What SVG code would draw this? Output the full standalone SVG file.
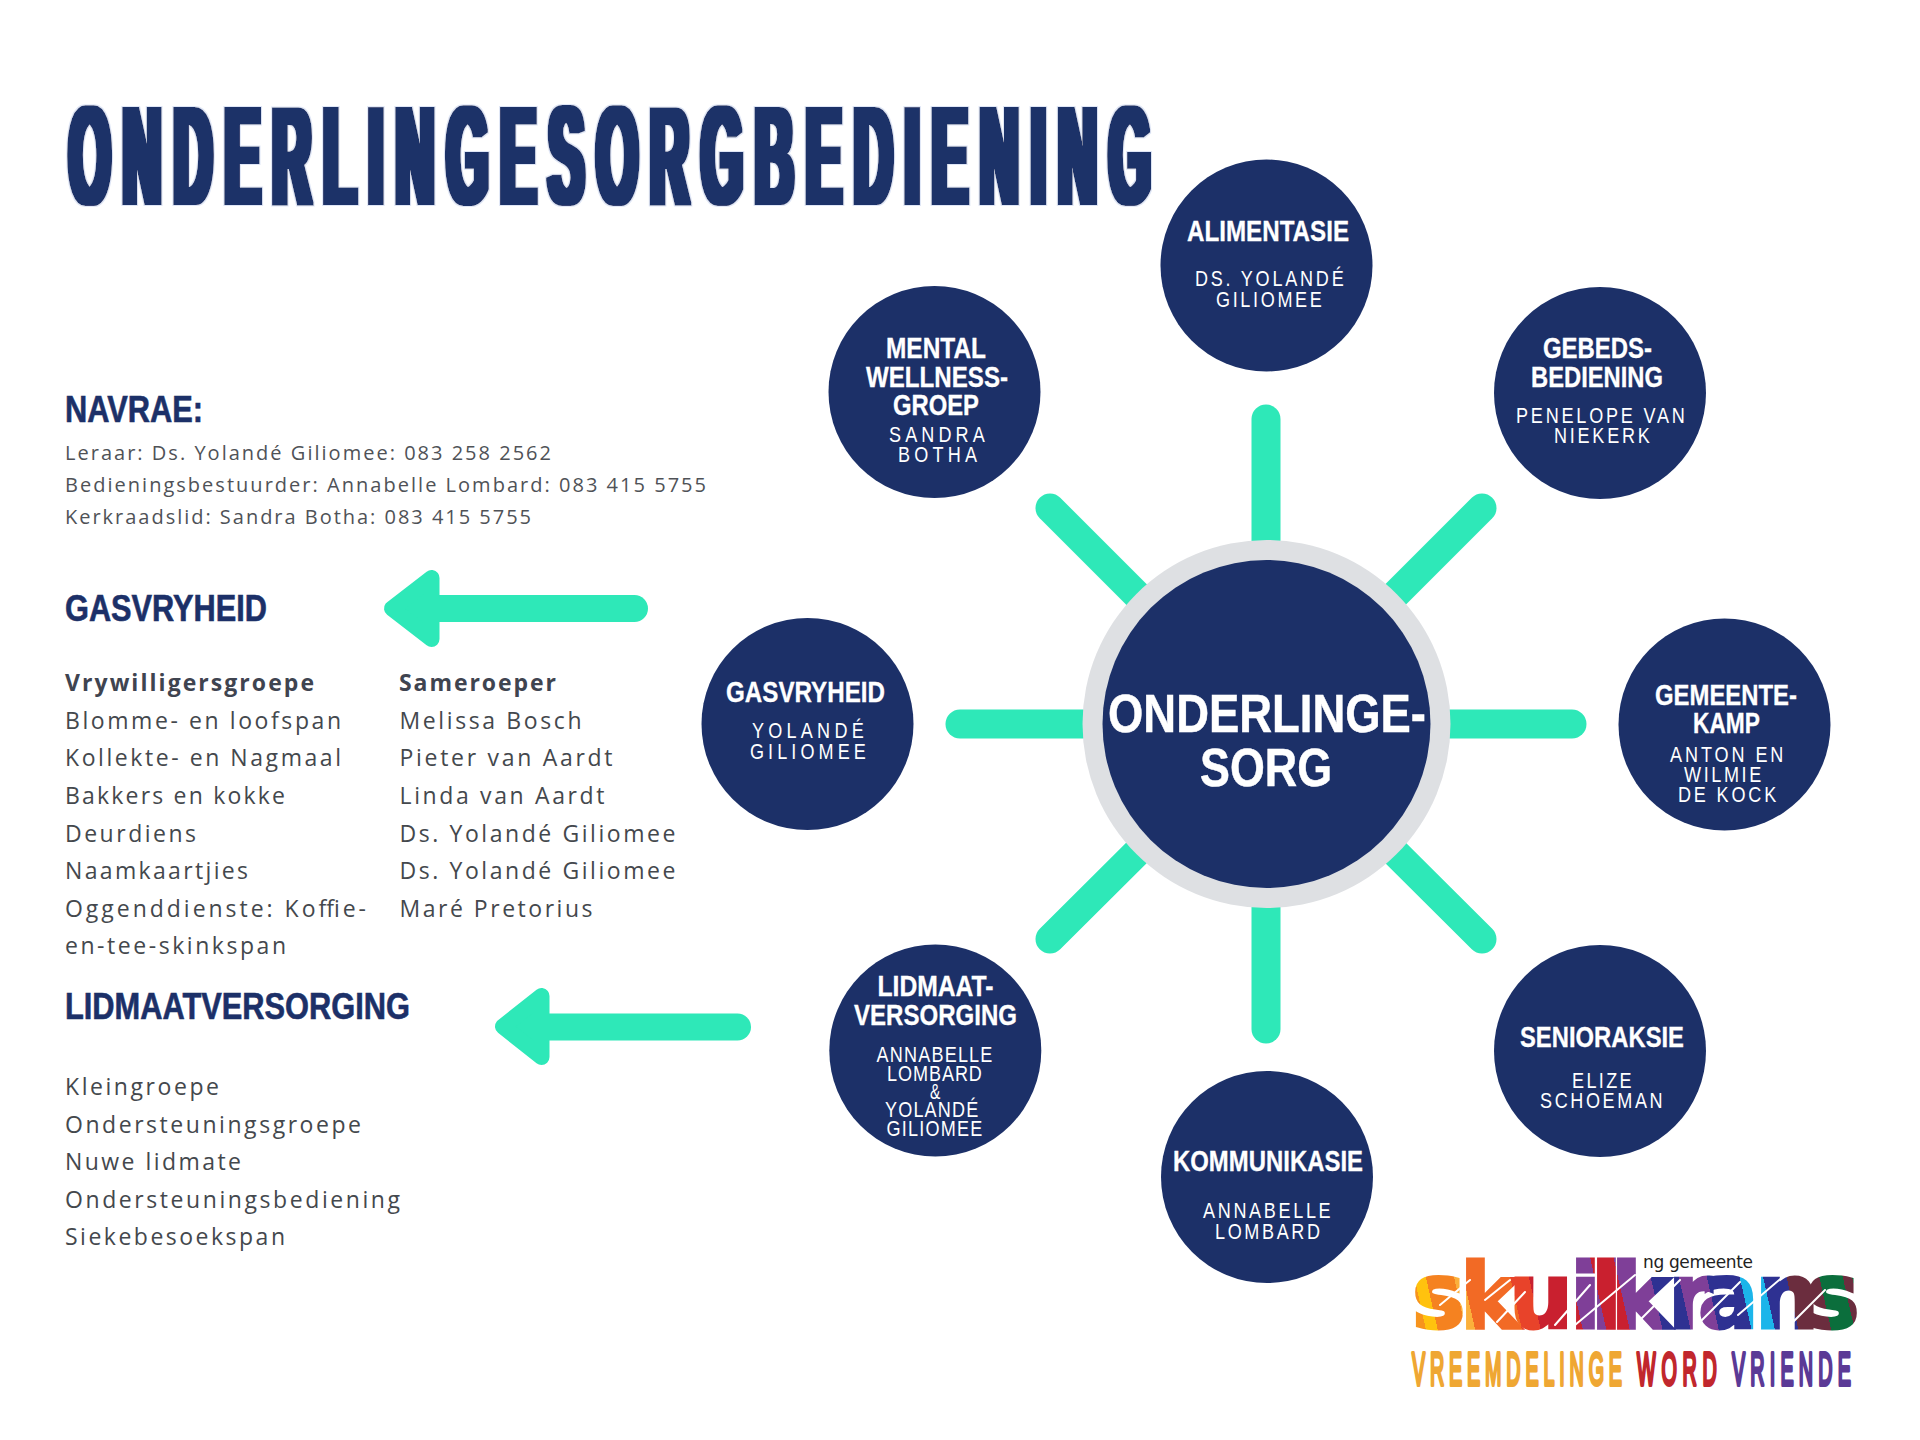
<svg xmlns="http://www.w3.org/2000/svg" width="1920" height="1440" viewBox="0 0 1920 1440">
<style>
text{font-family:"Liberation Sans",Arial,sans-serif}
.title{font-weight:700;font-size:140px;fill:#1c3068}
.h{font-weight:700;font-size:36px;fill:#1c3068;stroke:#1c3068;stroke-width:.6px}
.b{font-family:"Open Sans",sans-serif;font-size:23px;fill:#44484d}
.s{font-family:"Open Sans",sans-serif;font-size:20px;fill:#4f5257}
.bb{font-family:"Open Sans",sans-serif;font-size:23px;font-weight:700;fill:#3f4450}
.dot{fill:#1c3068}
.t{font-weight:700;font-size:29px;fill:#fff;stroke:#fff;stroke-width:.3px}
.n{font-size:21.5px;fill:#fff}
.c{font-weight:700;font-size:54px;fill:#fff;stroke:#fff;stroke-width:.5px}
.sp{stroke:#2ee8b8;stroke-width:29;stroke-linecap:round;fill:none}
.hd{fill:#2ee8b8;stroke:#2ee8b8;stroke-width:16;stroke-linejoin:round}
.shaft{stroke:#2ee8b8;stroke-width:27;stroke-linecap:round}
.tag{font-size:47px;stroke-width:4px;stroke-linejoin:round}
.cut{stroke:#fff;fill:none;stroke-linecap:round}
</style>
<defs>
<filter id="fat" filterUnits="userSpaceOnUse" x="0" y="60" width="1300" height="200">
<feMorphology in="SourceGraphic" operator="dilate" radius="3.8 0.6" result="d"/>
<feMorphology in="d" operator="dilate" radius="1 1" result="h"/>
<feFlood flood-color="#dfe6f6"/>
<feComposite in2="h" operator="in" result="halo"/>
<feMerge><feMergeNode in="halo"/><feMergeNode in="d"/></feMerge>
</filter>
<linearGradient id="streak" gradientUnits="userSpaceOnUse" x1="1413" y1="1345" x2="1859" y2="1245">
<stop offset="0" stop-color="#f7941d"/><stop offset=".035" stop-color="#f7941d"/><stop offset=".035" stop-color="#ffc20e"/><stop offset=".06" stop-color="#ffc20e"/><stop offset=".06" stop-color="#f58220"/><stop offset=".12" stop-color="#f58220"/><stop offset=".12" stop-color="#fbb03b"/><stop offset=".14" stop-color="#fbb03b"/><stop offset=".14" stop-color="#f26a25"/><stop offset=".24" stop-color="#f26a25"/><stop offset=".24" stop-color="#e8432a"/><stop offset=".28" stop-color="#e8432a"/><stop offset=".28" stop-color="#c9202f"/><stop offset=".37" stop-color="#c9202f"/><stop offset=".37" stop-color="#7f3f98"/><stop offset=".42" stop-color="#7f3f98"/><stop offset=".42" stop-color="#c9202f"/><stop offset=".47" stop-color="#c9202f"/><stop offset=".47" stop-color="#7f3f98"/><stop offset=".54" stop-color="#7f3f98"/><stop offset=".54" stop-color="#2e3192"/><stop offset=".6" stop-color="#2e3192"/><stop offset=".6" stop-color="#7f3f98"/><stop offset=".66" stop-color="#7f3f98"/><stop offset=".66" stop-color="#2e3192"/><stop offset=".73" stop-color="#2e3192"/><stop offset=".73" stop-color="#1cb5ea"/><stop offset=".78" stop-color="#1cb5ea"/><stop offset=".78" stop-color="#2e3192"/><stop offset=".83" stop-color="#2e3192"/><stop offset=".83" stop-color="#6b2d3e"/><stop offset=".9" stop-color="#6b2d3e"/><stop offset=".9" stop-color="#0b6e3c"/><stop offset=".95" stop-color="#0b6e3c"/><stop offset=".95" stop-color="#6b2d3e"/><stop offset=".97" stop-color="#6b2d3e"/><stop offset=".97" stop-color="#0b6e3c"/><stop offset="1" stop-color="#0b6e3c"/>
</linearGradient>
</defs>
<rect width="1920" height="1440" fill="#fff"/>

<g id="title" filter="url(#fat)">
<text class="title" transform="translate(69,204) scale(.38,1)" textLength="2846">ONDERLINGESORGBEDIENING</text>
</g>

<g id="navrae">
<text class="h" x="65" y="422" textLength="138" lengthAdjust="spacingAndGlyphs">NAVRAE:</text>
<text class="s" x="65" y="460" textLength="486">Leraar: Ds. Yolandé Giliomee: 083 258 2562</text>
<text class="s" x="65" y="492" textLength="641">Bedieningsbestuurder: Annabelle Lombard: 083 415 5755</text>
<text class="s" x="65" y="524" textLength="466">Kerkraadslid: Sandra Botha: 083 415 5755</text>
</g>

<g id="gasvryheid-list">
<text class="h" x="65" y="621" textLength="202" lengthAdjust="spacingAndGlyphs">GASVRYHEID</text>
<text class="bb" x="65" y="691" textLength="249">Vrywilligersgroepe</text>
<text class="b" x="65" y="729" textLength="276">Blomme- en loofspan</text>
<text class="b" x="65" y="766" textLength="276">Kollekte- en Nagmaal</text>
<text class="b" x="65" y="804" textLength="220">Bakkers en kokke</text>
<text class="b" x="65" y="841.5" textLength="131">Deurdiens</text>
<text class="b" x="65" y="879" textLength="183">Naamkaartjies</text>
<text class="b" x="65" y="916.5" textLength="301">Oggenddienste: Koffie-</text>
<text class="b" x="65" y="954" textLength="221">en-tee-skinkspan</text>
<text class="bb" x="399" y="691" textLength="157">Sameroeper</text>
<text class="b" x="399.5" y="729" textLength="182">Melissa Bosch</text>
<text class="b" x="399.5" y="766" textLength="213">Pieter van Aardt</text>
<text class="b" x="399.5" y="804" textLength="205">Linda van Aardt</text>
<text class="b" x="399.5" y="841.5" textLength="276">Ds. Yolandé Giliomee</text>
<text class="b" x="399.5" y="879" textLength="276">Ds. Yolandé Giliomee</text>
<text class="b" x="399.5" y="916.5" textLength="193">Maré Pretorius</text>
</g>

<g id="lidmaat-list">
<text class="h" x="65" y="1019" textLength="345" lengthAdjust="spacingAndGlyphs">LIDMAATVERSORGING</text>
<text class="b" x="65" y="1095" textLength="154">Kleingroepe</text>
<text class="b" x="65" y="1132.5" textLength="296">Ondersteuningsgroepe</text>
<text class="b" x="65" y="1170" textLength="176">Nuwe lidmate</text>
<text class="b" x="65" y="1207.5" textLength="335">Ondersteuningsbediening</text>
<text class="b" x="65" y="1245" textLength="220">Siekebesoekspan</text>
</g>

<g id="connectors">
<line class="sp" x1="1266" y1="419" x2="1266" y2="724"/>
<line class="sp" x1="1266" y1="1029" x2="1266" y2="724"/>
<line class="sp" x1="960" y1="724" x2="1266" y2="724"/>
<line class="sp" x1="1572" y1="724" x2="1266" y2="724"/>
<line class="sp" x1="1050" y1="508" x2="1266" y2="724"/>
<line class="sp" x1="1482" y1="508" x2="1266" y2="724"/>
<line class="sp" x1="1050" y1="939" x2="1266" y2="724"/>
<line class="sp" x1="1482" y1="939" x2="1266" y2="724"/>
<line class="shaft" x1="430" y1="608.5" x2="634.5" y2="608.5"/>
<polygon class="hd" points="392,608.5 431.5,578 431.5,639"/>
<line class="shaft" x1="540" y1="1027" x2="737.5" y2="1027"/>
<polygon class="hd" points="503,1026.5 541.5,996 541.5,1057"/>
</g>

<g id="node-center">
<circle cx="1266.5" cy="724" r="184" fill="#dee0e3"/>
<circle class="dot" cx="1266.5" cy="724" r="164"/>
<text class="c" x="1108" y="732" textLength="318" lengthAdjust="spacingAndGlyphs">ONDERLINGE-</text>
<text class="c" x="1200" y="786" textLength="132" lengthAdjust="spacingAndGlyphs">SORG</text>
</g>

<g id="node-alimentasie">
<circle class="dot" cx="1266.5" cy="265.5" r="106"/>
<text class="t" x="1187" y="241" textLength="162" lengthAdjust="spacingAndGlyphs">ALIMENTASIE</text>
<text class="n" transform="translate(1195,286) scale(.84,1)" textLength="177">DS. YOLANDÉ</text>
<text class="n" transform="translate(1216,307) scale(.84,1)" textLength="126">GILIOMEE</text>
</g>
<g id="node-gebeds">
<circle class="dot" cx="1600" cy="393" r="106"/>
<text class="t" x="1543" y="358" textLength="109" lengthAdjust="spacingAndGlyphs">GEBEDS-</text>
<text class="t" x="1531" y="387" textLength="132" lengthAdjust="spacingAndGlyphs">BEDIENING</text>
<text class="n" transform="translate(1516,423) scale(.84,1)" textLength="201">PENELOPE VAN</text>
<text class="n" transform="translate(1554,443) scale(.84,1)" textLength="114">NIEKERK</text>
</g>
<g id="node-gemeente">
<circle class="dot" cx="1724.5" cy="724.5" r="106"/>
<text class="t" x="1655" y="705" textLength="142" lengthAdjust="spacingAndGlyphs">GEMEENTE-</text>
<text class="t" x="1693" y="733" textLength="67" lengthAdjust="spacingAndGlyphs">KAMP</text>
<text class="n" transform="translate(1670,762) scale(.84,1)" textLength="135">ANTON EN</text>
<text class="n" transform="translate(1684,782) scale(.84,1)" textLength="92">WILMIE</text>
<text class="n" transform="translate(1678,802) scale(.84,1)" textLength="117">DE KOCK</text>
</g>
<g id="node-senior">
<circle class="dot" cx="1600" cy="1051" r="106"/>
<text class="t" x="1520" y="1047" textLength="164" lengthAdjust="spacingAndGlyphs">SENIORAKSIE</text>
<text class="n" transform="translate(1572,1088) scale(.84,1)" textLength="71">ELIZE</text>
<text class="n" transform="translate(1540,1108) scale(.84,1)" textLength="146">SCHOEMAN</text>
</g>
<g id="node-kommunikasie">
<circle class="dot" cx="1267" cy="1177" r="106"/>
<text class="t" x="1173" y="1171" textLength="190" lengthAdjust="spacingAndGlyphs">KOMMUNIKASIE</text>
<text class="n" transform="translate(1203,1218) scale(.84,1)" textLength="152">ANNABELLE</text>
<text class="n" transform="translate(1215,1239) scale(.84,1)" textLength="125">LOMBARD</text>
</g>
<g id="node-lidmaat">
<circle class="dot" cx="935.3" cy="1050.5" r="106"/>
<text class="t" x="877.5" y="996" textLength="116" lengthAdjust="spacingAndGlyphs">LIDMAAT-</text>
<text class="t" x="854" y="1024.5" textLength="163" lengthAdjust="spacingAndGlyphs">VERSORGING</text>
<text class="n" transform="translate(876.5,1062) scale(.84,1)" textLength="138">ANNABELLE</text>
<text class="n" transform="translate(887,1081) scale(.84,1)" textLength="113">LOMBARD</text>
<text class="n" transform="translate(930,1099) scale(.72,1)" textLength="14">&amp;</text>
<text class="n" transform="translate(885,1117) scale(.84,1)" textLength="111">YOLANDÉ</text>
<text class="n" transform="translate(886.5,1136) scale(.84,1)" textLength="114">GILIOMEE</text>
</g>
<g id="node-gasvryheid">
<circle class="dot" cx="807.5" cy="724" r="106"/>
<text class="t" x="726" y="702" textLength="159" lengthAdjust="spacingAndGlyphs">GASVRYHEID</text>
<text class="n" transform="translate(752,738) scale(.84,1)" textLength="133">YOLANDÉ</text>
<text class="n" transform="translate(750,759) scale(.84,1)" textLength="138">GILIOMEE</text>
</g>
<g id="node-mental">
<circle class="dot" cx="934.5" cy="392" r="106"/>
<text class="t" x="886" y="358" textLength="100" lengthAdjust="spacingAndGlyphs">MENTAL</text>
<text class="t" x="866" y="387" textLength="142" lengthAdjust="spacingAndGlyphs">WELLNESS-</text>
<text class="t" x="893" y="415" textLength="86" lengthAdjust="spacingAndGlyphs">GROEP</text>
<text class="n" transform="translate(889,442) scale(.84,1)" textLength="114">SANDRA</text>
<text class="n" transform="translate(898,462) scale(.84,1)" textLength="94">BOTHA</text>
</g>

<g id="logo">
<text x="1412 1460 1509 1570 1591 1611 1668 1698 1755 1806" y="1328" font-size="90" font-weight="700" style="font-family:'DejaVu Sans',sans-serif" fill="url(#streak)" stroke="url(#streak)" stroke-width="3">skuilkrans</text>
<path class="cut" stroke-width="2" d="M1440 1305L1470 1280M1485 1300L1510 1280M1497 1322L1525 1292M1555 1325L1590 1285M1575 1325L1635 1275M1640 1320L1680 1280M1700 1322L1740 1282M1738 1315L1785 1275M1790 1325L1825 1290"/>
<text x="1643" y="1268" font-size="17" textLength="110" fill="#222" style="font-family:'DejaVu Sans',sans-serif">ng gemeente</text>
<text class="tag" transform="translate(1412,1385) scale(.42,1)" textLength="500" fill="#efa733" stroke="#efa733">VREEMDELINGE</text>
<text class="tag" transform="translate(1637,1385) scale(.42,1)" textLength="190" fill="#c1272d" stroke="#c1272d">WORD</text>
<text class="tag" transform="translate(1732,1385) scale(.42,1)" textLength="283" fill="#5b3a96" stroke="#5b3a96">VRIENDE</text>
</g>
</svg>
